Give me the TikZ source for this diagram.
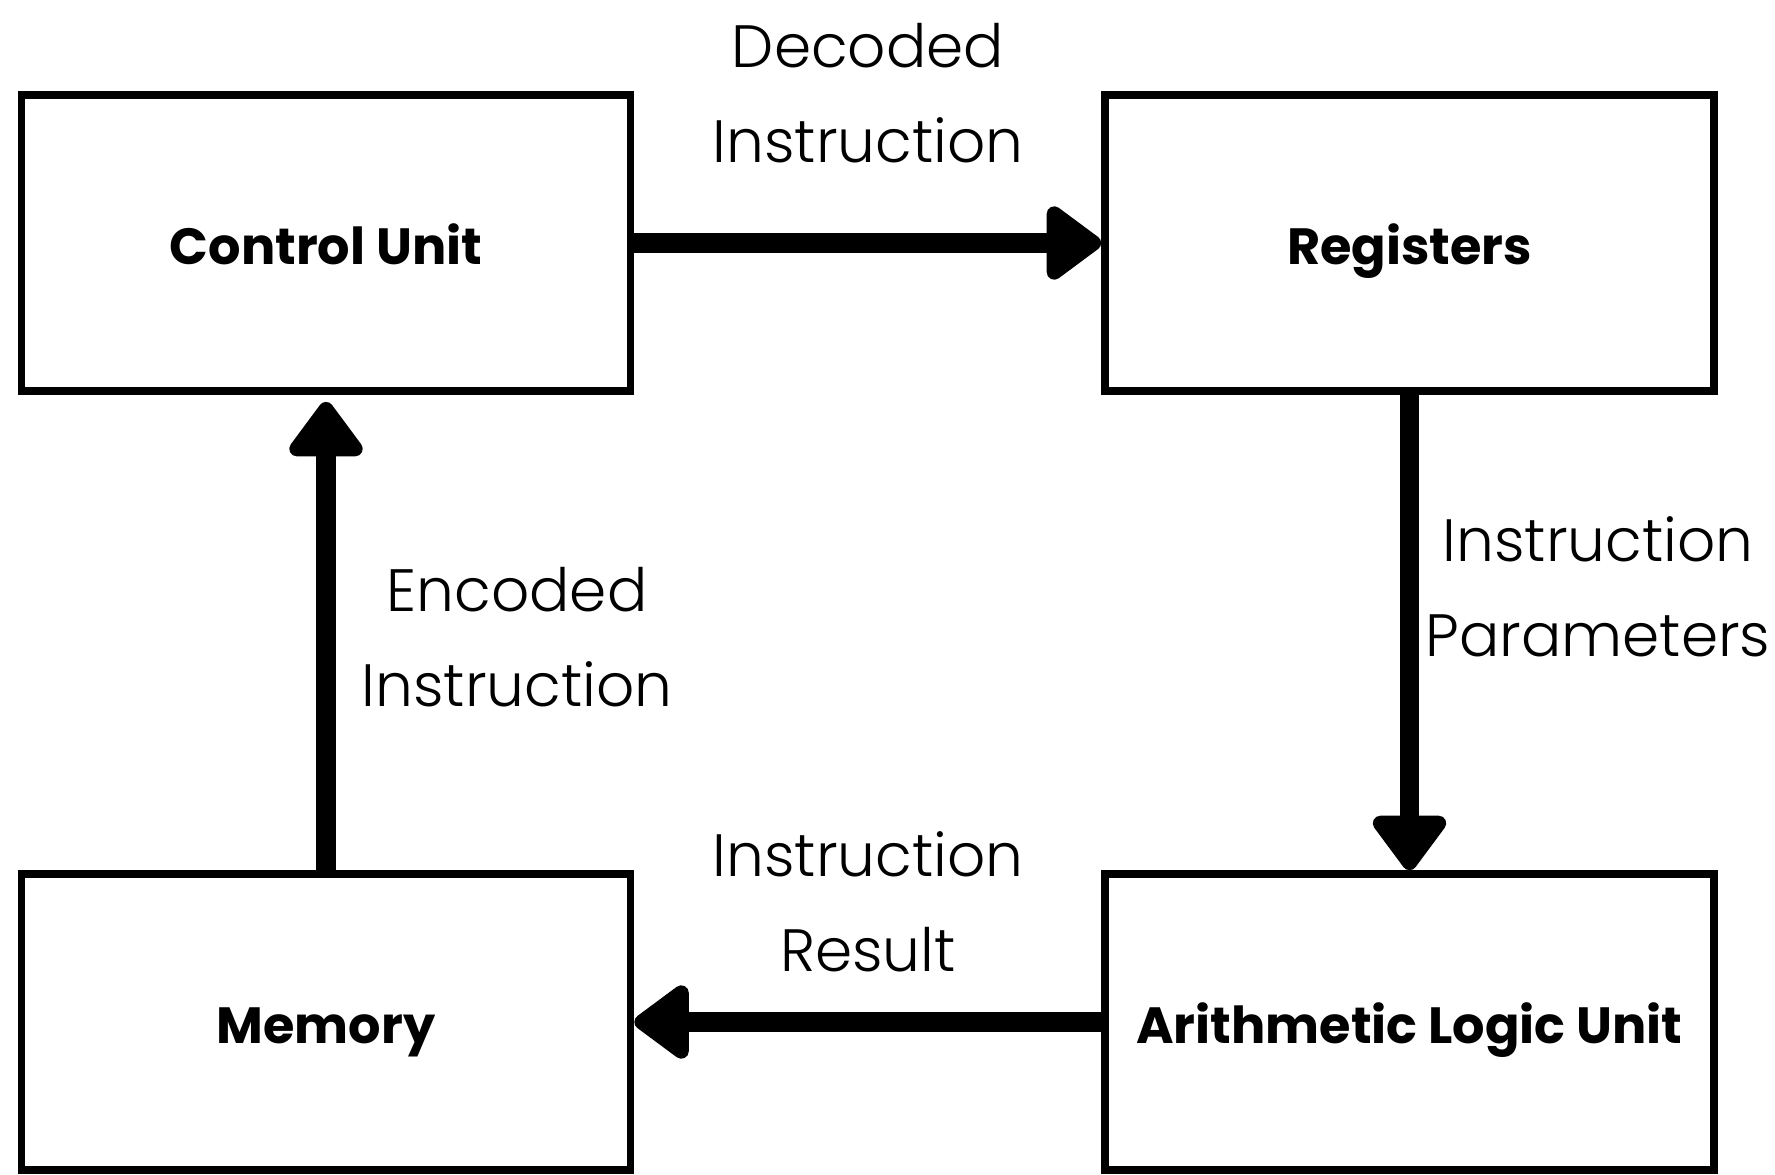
\documentclass[tikz,border=0pt]{standalone}
\usepackage{fontspec}
\setmainfont{Poppins}
\newfontfamily\labelfont{Poppins Light}
\usetikzlibrary{arrows.meta}

\begin{document}
\begin{tikzpicture}[
	unit/.style={draw, line width=2.2pt, minimum width=6.09cm, minimum height=2.96cm, text height=1.2em, text depth=0pt, font=\bfseries\fontsize{14.5}{16}\selectfont},
	flow/.style={line width=5.5pt, -{Triangle[length=0.6cm, width=0.84cm, round]}},
	tag/.style={align=center, font=\labelfont\fontsize{17}{27}\selectfont}]
	\useasboundingbox (0,0) rectangle (17.75,-11.74);
	% the four units
	\node[unit] (cu) at (3.26,-2.43) {Control Unit};
	\node[unit] (reg) at (14.095,-2.43) {Registers};
	\node[unit] (mem) at (3.26,-10.22) {Memory};
	\node[unit] (alu) at (14.095,-10.22) {Arithmetic Logic Unit};
	% data flow
	\draw[flow] (cu) -- (reg);
	\draw[flow] (reg) -- (alu);
	\draw[flow] (alu) -- (mem);
	\draw[flow, shorten >=2pt] (mem) -- (cu);
	\node[tag] (dec) at (8.68,-0.93) {Decoded\\Instruction};
	\node[tag] (par) at (15.98,-5.87) {Instruction\\Parameters};
	\node[tag] (res) at (8.68,-9.02) {Instruction\\Result};
	\node[tag] (enc) at (5.17,-6.37) {Encoded\\Instruction};
\end{tikzpicture}
\end{document}
